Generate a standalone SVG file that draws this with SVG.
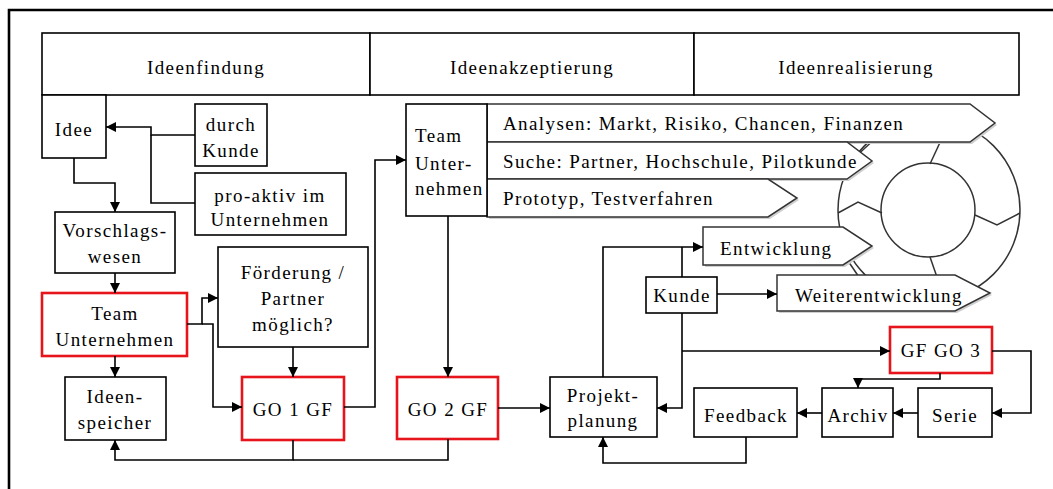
<svg xmlns="http://www.w3.org/2000/svg" width="1053" height="489" viewBox="0 0 1053 489">
<style>
text{font-family:"Liberation Serif","Times New Roman",serif;font-size:19px;letter-spacing:1.4px;fill:#000}
.c{text-anchor:middle}
.box{fill:#fff;stroke:#000;stroke-width:1.6}
.red{fill:#fff;stroke:#e8141b;stroke-width:2.6}
.pent{fill:#fff;stroke:#333;stroke-width:1.5}
.shadow{fill:#cfcfcf;stroke:none}
.ring{fill:none;stroke:#333;stroke-width:1.5}
.con{fill:none;stroke:#000;stroke-width:1.6}
.arr{marker-end:url(#ah)}
</style>
<defs>
<marker id="ah" markerWidth="11" markerHeight="11" refX="10" refY="5" orient="auto" markerUnits="userSpaceOnUse">
<path d="M0,0 L10,5 L0,10 z" fill="#000"/>
</marker>
</defs>
<rect width="1053" height="489" fill="#fff"/>
<path d="M9,489 V10 H1053" fill="none" stroke="#000" stroke-width="2.6"/>

<g id="header">
<g id="phase-ideenfindung"><rect class="box" x="42" y="33" width="328" height="62"/><text class="c" x="206" y="74">Ideenfindung</text></g>
<g id="phase-ideenakzeptierung"><rect class="box" x="370" y="33" width="324" height="62"/><text class="c" x="532" y="74">Ideenakzeptierung</text></g>
<g id="phase-ideenrealisierung"><rect class="box" x="694" y="33" width="325" height="62"/><text class="c" x="856" y="74">Ideenrealisierung</text></g>
</g>

<g id="cycle">
<circle class="ring" cx="929" cy="210" r="91"/>
<circle class="ring" cx="928" cy="210" r="47"/>
<path class="ring" d="M852,160 L878,136"/>
<path class="ring" d="M943,136 L930,164"/>
<path class="ring" d="M838,213 L858,202 L882,213"/>
<path class="ring" d="M975,215 L997,225 L1020,213"/>
<path class="ring" d="M930,257 L938,280"/>
<path class="ring" d="M846,258 L861,280"/>
</g>

<g id="n-analysen"><polygon class="shadow" points="489,106 972,106 997,125 972,144 489,144"/><polygon class="pent" points="487,104 970,104 995,123 970,142 487,142"/><text x="503" y="130">Analysen: Markt, Risiko, Chancen, Finanzen</text></g>
<g id="n-suche"><polygon class="shadow" points="489,144 849,144 874,163 849,181 489,181"/><polygon class="pent" points="487,142 847,142 872,161 847,179 487,179"/><text x="503" y="168">Suche: Partner, Hochschule, Pilotkunde</text></g>
<g id="n-prototyp"><polygon class="shadow" points="489,181 770,181 799,200 770,219 489,219"/><polygon class="pent" points="487,179 768,179 797,198 768,217 487,217"/><text x="503" y="205">Prototyp, Testverfahren</text></g>
<g id="n-entwicklung"><polygon class="shadow" points="705,229 845,229 874,248 845,267 705,267"/><polygon class="pent" points="703,227 843,227 872,246 843,265 703,265"/><text x="720" y="255">Entwicklung</text></g>
<g id="n-weiterentwicklung"><polygon class="shadow" points="779,277 957,277 992,295 957,313 779,313"/><polygon class="pent" points="777,275 955,275 990,293 955,311 777,311"/><text x="795" y="302">Weiterentwicklung</text></g>

<g id="n-idee"><rect class="box" x="42" y="95" width="64" height="63"/><text class="c" x="74" y="136">Idee</text></g>
<g id="n-durch-kunde"><rect class="box" x="195" y="104" width="72" height="62"/><text class="c" x="231" y="131">durch</text><text class="c" x="231" y="157">Kunde</text></g>
<g id="n-pro-aktiv"><rect class="box" x="195" y="173" width="151" height="62"/><text class="c" x="270" y="202">pro-aktiv im</text><text class="c" x="270" y="226">Unternehmen</text></g>
<g id="n-vorschlagswesen"><rect class="box" x="55" y="212" width="120" height="61"/><text class="c" x="115" y="237">Vorschlags-</text><text class="c" x="115" y="263">wesen</text></g>
<g id="n-team1"><rect class="red" x="42" y="293" width="145" height="63"/><text class="c" x="115" y="320">Team</text><text class="c" x="115" y="346">Unternehmen</text></g>
<g id="n-ideenspeicher"><rect class="box" x="65" y="377" width="101" height="63"/><text class="c" x="115" y="403">Ideen-</text><text class="c" x="115" y="429">speicher</text></g>
<g id="n-foerderung"><rect class="box" x="218" y="247" width="150" height="100"/><text class="c" x="293" y="279">Förderung /</text><text class="c" x="293" y="305">Partner</text><text class="c" x="293" y="331">möglich?</text></g>
<g id="n-go1"><rect class="red" x="242" y="377" width="102" height="63"/><text class="c" x="293" y="416">GO 1 GF</text></g>
<g id="n-team2"><rect class="box" x="406" y="104" width="81" height="112"/><text x="415" y="142">Team</text><text x="415" y="170">Unter-</text><text x="415" y="195">nehmen</text></g>
<g id="n-go2"><rect class="red" x="397" y="377" width="101" height="62"/><text class="c" x="448" y="416">GO 2 GF</text></g>
<g id="n-projektplanung"><rect class="box" x="550" y="377" width="107" height="60"/><text class="c" x="603" y="402">Projekt-</text><text class="c" x="603" y="427">planung</text></g>
<g id="n-kunde"><rect class="box" x="646" y="277" width="71" height="36"/><text class="c" x="682" y="302">Kunde</text></g>
<g id="n-gfgo3"><rect class="red" x="890" y="327" width="102" height="46"/><text class="c" x="941" y="357">GF GO 3</text></g>
<g id="n-serie"><rect class="box" x="918" y="388" width="74" height="49"/><text class="c" x="955" y="422">Serie</text></g>
<g id="n-archiv"><rect class="box" x="822" y="388" width="71" height="49"/><text class="c" x="858" y="422">Archiv</text></g>
<g id="n-feedback"><rect class="box" x="694" y="388" width="103" height="49"/><text class="c" x="746" y="422">Feedback</text></g>

<g id="connectors">
<path class="con arr" d="M195,135 H151 V127 H106"/>
<path class="con" d="M195,203 H151 V135"/>
<path class="con arr" d="M74,158 V183 H115 V212"/>
<path class="con arr" d="M115,273 V293"/>
<path class="con arr" d="M115,356 V377"/>
<path class="con arr" d="M187,324 H202 V298 H218"/>
<path class="con arr" d="M202,324 H213 V407 H242"/>
<path class="con arr" d="M293,347 V377"/>
<path class="con arr" d="M344,407 H375 V160 H406"/>
<path class="con arr" d="M293,440 V460 H115 V440"/>
<path class="con" d="M448,439 V460 H293"/>
<path class="con arr" d="M448,216 V377"/>
<path class="con arr" d="M498,408 H550"/>
<path class="con arr" d="M603,377 V247 H703"/>
<path class="con" d="M682,277 V247"/>
<path class="con arr" d="M717,294 H777"/>
<path class="con arr" d="M682,313 V408 H657"/>
<path class="con arr" d="M682,351 H890"/>
<path class="con arr" d="M992,351 H1031 V413 H992"/>
<path class="con arr" d="M940,373 V379 H858 V388"/>
<path class="con arr" d="M918,413 H893"/>
<path class="con arr" d="M822,413 H797"/>
<path class="con arr" d="M746,437 V463 H603 V437"/>
</g>
</svg>
